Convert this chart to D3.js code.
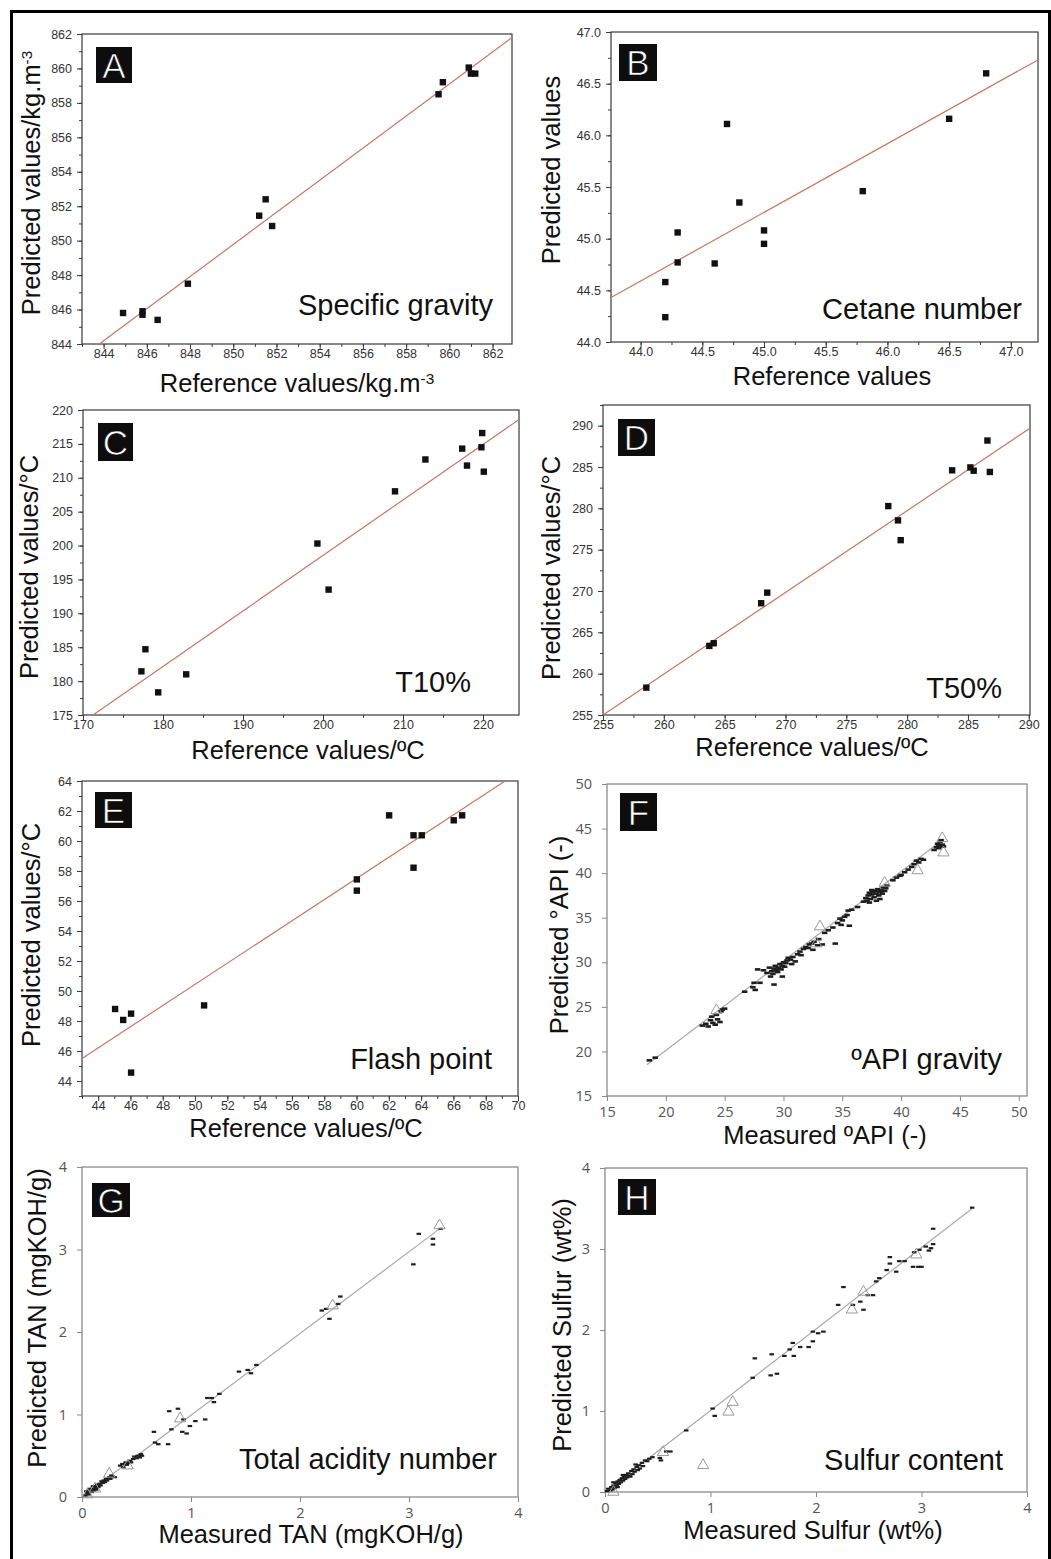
<!DOCTYPE html>
<html><head><meta charset="utf-8">
<script src="https://cdn.jsdelivr.net/npm/d3@7"></script>
<style>body{margin:0;background:#fff} svg{display:block}</style>
</head><body><svg id="c" width="1051" height="1559"></svg>
<script>
// ---------------- DATA ----------------
const pointsA = [[844.9,845.8],[845.8,845.9],[845.8,845.7],[846.5,845.4],[847.9,847.5],[851.2,851.45],[851.5,852.4],[851.8,850.85],[859.5,858.5],[859.7,859.2],[860.9,860.05],[861.0,859.7],[861.2,859.7]];
const fitA = [[843.8,844],[862.9,861.8]];
const domainAx = [843, 862.9], domainAy = [844, 862];
const ticksAx = [844,846,848,850,852,854,856,858,860,862];
const ticksAy = [844,846,848,850,852,854,856,858,860,862];

const pointsB = [[44.2,44.58],[44.2,44.24],[44.3,45.06],[44.3,44.77],[44.6,44.76],[44.7,46.11],[44.8,45.35],[45.0,45.08],[45.0,44.95],[45.8,45.46],[46.5,46.16],[46.8,46.6]];
const fitB = [[43.76,44.43],[47.22,46.73]];
const domainBx = [43.76, 47.22], domainBy = [44, 47];
const ticksBx = [44.0,44.5,45.0,45.5,46.0,46.5,47.0];
const ticksBy = [44.0,44.5,45.0,45.5,46.0,46.5,47.0];

const pointsC = [[177.3,181.44],[177.8,184.7],[179.4,178.34],[182.9,181.0],[199.3,200.3],[200.7,193.5],[209.0,208.0],[212.8,212.7],[217.4,214.3],[218.0,211.8],[219.9,216.6],[219.8,214.5],[220.1,210.9]];
const fitC = [[171.25,175],[224.5,218.6]];
const domainCx = [170, 224.5], domainCy = [175, 220];
const ticksCx = [170,180,190,200,210,220];
const ticksCy = [175,180,185,190,195,200,205,210,215,220];

const pointsD = [[258.56,258.31],[263.74,263.36],[264.1,263.68],[268.0,268.52],[268.5,269.8],[278.45,280.27],[279.25,278.54],[279.47,276.15],[283.7,284.6],[285.2,284.95],[285.47,284.55],[286.6,288.2],[286.8,284.4]];
const fitD = [[255,255],[290.1,289.7]];
const domainDx = [255, 290.1], domainDy = [255, 292.5];
const ticksDx = [255,260,265,270,275,280,285,290];
const ticksDy = [255,260,265,270,275,280,285,290];

const pointsE = [[45.05,48.8],[45.55,48.07],[46.04,48.49],[46.04,44.56],[50.56,49.04],[60.02,57.44],[60.02,56.69],[62.02,61.71],[63.53,60.38],[64.04,60.38],[63.53,58.22],[66.02,61.38],[66.54,61.71]];
const fitE = [[43,45.5],[69.2,64]];
const domainEx = [43, 70], domainEy = [43, 64];
const ticksEx = [44,46,48,50,52,54,56,58,60,62,64,66,68,70];
const ticksEy = [44,46,48,50,52,54,56,58,60,62,64];

const pointsF = [
[18.6,19.0],[19.1,19.3],
[23.1,22.9],[23.4,23.1],[23.6,22.8],[23.8,23.5],[24.0,23.2],[24.2,23.0],[24.4,23.6],[24.6,23.3],[24.8,24.7],[25.0,24.8],[24.7,24.5],[23.9,23.9],[24.3,24.1],
[26.7,26.7],[27.4,27.2],[27.5,27.7],[27.6,26.9],[28.0,27.7],
[27.8,29.2],[28.3,29.1],[28.6,28.8],[28.8,29.4],[29.0,29.0],[29.1,28.7],[29.2,29.3],[29.3,29.6],[29.4,29.1],[29.5,28.9],[29.6,29.4],[29.7,29.8],[29.8,29.2],[29.9,29.6],[30.0,30.0],[30.1,29.5],[30.2,29.9],[30.3,30.2],[30.4,30.5],[30.6,30.3],[30.8,30.6],[31.0,30.1],[29.2,27.5],[29.9,28.4],[28.9,28.4],[30.7,29.8],[31.2,30.9],[31.4,31.2],[31.5,30.8],[31.7,31.5],[31.9,31.7],[32.1,31.6],[32.2,32.0],[32.4,32.1],[32.6,32.3],[33.0,32.6],[33.3,32.0],[34.4,32.1],[32.5,31.4],[32.9,31.9],
[33.5,33.3],[33.8,33.6],[34.2,33.9],[34.6,34.4],[34.8,34.9],[35.0,34.7],[35.2,35.1],[35.4,35.3],[35.6,34.1],[35.5,35.8],[35.8,35.9],[34.9,34.2],[36.3,36.2],
[36.8,36.8],[37.0,37.2],[37.1,36.9],[37.2,37.5],[37.3,37.8],[37.4,37.1],[37.5,37.6],[37.6,37.9],[37.7,37.3],[37.8,38.0],[37.9,37.7],[38.0,38.2],[38.1,37.5],[38.2,37.9],[38.3,38.1],[38.4,37.7],[38.5,38.4],[38.6,38.0],[38.7,38.3],[37.5,38.1],[37.9,36.9],[38.2,37.1],[37.3,36.7],[38.8,38.6],
[39.3,39.2],[39.6,39.5],[39.9,39.7],[40.3,40.1],[40.6,40.4],[40.9,40.7],[41.1,41.0],[41.3,41.4],[41.5,41.2],[41.7,41.6],[41.9,41.5],[40.0,39.8],
[42.8,42.6],[43.0,42.9],[43.1,43.3],[43.2,42.8],[43.3,43.5],[43.4,43.0],[43.5,43.2],[43.4,43.7],[43.2,43.1],[43.6,43.0]
];
const trianglesF = [[24.3,24.6],[32.8,32.1],[33.1,34.0],[38.6,38.9],[41.4,40.3],[43.6,42.3],[43.5,43.9]];
const fitF = [[18.4,18.5],[43.4,43.6]];
const domainFx = [15, 50.7], domainFy = [15, 50];
const ticksFx = [15,20,25,30,35,40,45,50];
const ticksFy = [15,20,25,30,35,40,45,50];

const pointsG = [
[0.03,0.02],[0.05,0.05],[0.06,0.03],[0.08,0.08],[0.09,0.06],[0.1,0.1],[0.11,0.08],[0.12,0.13],[0.13,0.11],[0.14,0.15],[0.15,0.12],[0.16,0.16],[0.17,0.14],[0.18,0.19],[0.19,0.17],[0.2,0.2],[0.21,0.18],[0.22,0.22],[0.23,0.2],[0.25,0.24],[0.26,0.22],[0.27,0.26],[0.28,0.25],[0.3,0.24],[0.07,0.1],[0.1,0.13],[0.13,0.09],[0.04,0.07],
[0.35,0.38],[0.37,0.4],[0.38,0.36],[0.4,0.42],[0.41,0.39],[0.42,0.41],[0.44,0.44],[0.45,0.42],[0.47,0.46],[0.48,0.49],[0.5,0.47],[0.51,0.5],[0.53,0.48],[0.54,0.52],[0.55,0.5],
[0.66,0.79],[0.67,0.66],[0.7,0.64],[0.79,0.64],[0.8,1.04],[0.82,0.82],[0.88,1.07],[0.92,0.79],[0.96,0.77],[0.93,0.94],[0.99,0.86],[1.04,0.92],[1.13,0.94],
[1.15,1.2],[1.19,1.2],[1.21,1.15],[1.26,1.25],[1.44,1.52],[1.52,1.54],[1.55,1.5],[1.6,1.6],[2.2,2.26],[2.24,2.28],[2.27,2.16],[2.35,2.34],[2.37,2.43],[3.04,2.82],[3.09,3.19],[3.22,3.13],[3.22,3.06],[3.29,3.25]
];
const trianglesG = [[0.9,0.95],[2.3,2.32],[3.28,3.29],[0.25,0.28],[0.42,0.38],[0.12,0.1],[0.05,0.03]];
const fitG = [[0.02,0.02],[3.28,3.25]];
const domainGx = [0, 4], domainGy = [0, 4];
const ticksGx = [0,1,2,3,4], ticksGy = [0,1,2,3,4];

const pointsH = [
[0.02,0.01],[0.03,0.04],[0.05,0.02],[0.06,0.06],[0.07,0.03],[0.08,0.08],[0.09,0.05],[0.1,0.11],[0.11,0.08],[0.12,0.13],[0.13,0.1],[0.14,0.15],[0.15,0.12],[0.16,0.17],[0.17,0.14],[0.18,0.19],[0.19,0.16],[0.2,0.21],[0.21,0.18],[0.22,0.23],[0.23,0.2],[0.25,0.26],[0.26,0.22],[0.27,0.28],[0.28,0.25],[0.3,0.31],[0.31,0.27],[0.32,0.33],[0.33,0.29],[0.35,0.36],[0.36,0.32],[0.38,0.39],[0.4,0.38],[0.42,0.41],[0.45,0.43],[0.52,0.42],[0.53,0.39],[0.08,0.12],[0.12,0.06],[0.17,0.21],[0.24,0.19],[0.29,0.34],
[0.58,0.5],[0.62,0.5],[0.77,0.76],[1.02,1.03],[1.04,0.94],[1.4,1.41],[1.42,1.65],[1.57,1.44],[1.63,1.46],[1.58,1.7],[1.7,1.68],[1.75,1.76],[1.78,1.84],[1.79,1.68],[1.85,1.79],[1.93,1.79],[1.97,1.86],[1.97,1.98],[2.02,1.96],[2.07,1.98],[2.21,2.31],[2.26,2.53],[2.35,2.31],[2.42,2.35],[2.45,2.25],[2.49,2.43],[2.54,2.43],[2.57,2.6],[2.6,2.64],[2.67,2.74],[2.7,2.82],[2.7,2.9],[2.76,2.72],[2.79,2.85],[2.84,2.85],[2.92,2.78],[2.93,2.96],[2.97,2.78],[3.0,2.78],[2.98,2.99],[3.04,3.03],[3.07,2.98],[3.09,3.01],[3.11,3.06],[3.11,3.25],[3.48,3.51]
];
const trianglesH = [[0.55,0.49],[0.93,0.33],[1.17,0.99],[1.21,1.11],[2.34,2.25],[2.45,2.47],[2.95,2.93],[0.08,0.0]];
const fitH = [[0.0,0.0],[3.48,3.5]];
const domainHx = [0, 4], domainHy = [0, 4];
const ticksHx = [0,1,2,3,4], ticksHy = [0,1,2,3,4];

const panelLetters = ["A","B","C","D","E","F","G","H"];
const panelNotes = ["Specific gravity","Cetane number","T10%","T50%","Flash point","ºAPI gravity","Total acidity number","Sulfur content"];
const xLabels = ["Reference values/kg.m^-3","Reference values","Reference values/ºC","Reference values/ºC","Reference values/ºC","Measured ºAPI (-)","Measured TAN (mgKOH/g)","Measured Sulfur (wt%)"];
const yLabels = ["Predicted values/kg.m^-3","Predicted values","Predicted values/°C","Predicted values/°C","Predicted values/°C","Predicted °API (-)","Predicted TAN (mgKOH/g)","Predicted Sulfur (wt%)"];

// ---------------- LAYOUT ----------------
const layout = [
 {box:[82,512,34,344], style:"origin", tag:[96,47,36,36], ylab:[40,183], xlab:[297,392], note:[493,315], fx:"d", fy:"d", mx:1, my:1},
 {box:[611,1038,32,342], style:"origin", tag:[619,44,38,37], ylab:[560,170], xlab:[832,385], note:[1022,319], fx:".1f", fy:".1f", mx:0.25, my:0.25},
 {box:[83,519,410,715], style:"origin", tag:[98,423,35,38], ylab:[38,567], xlab:[308,759], note:[471,692], fx:"d", fy:"d", mx:5, my:2.5},
 {box:[603,1030,405,715], style:"origin", tag:[618,419,37,37], ylab:[560,568], xlab:[812,756], note:[1002,698], fx:"d", fy:"d", mx:2.5, my:2.5},
 {box:[82,518,781,1096], style:"origin", tag:[95,792,37,36], ylab:[40,935], xlab:[306,1137], note:[492,1069], fx:"d", fy:"d", mx:1, my:1},
 {box:[607,1027,784,1096], style:"excel", tag:[620,793,37,38], ylab:[568,935], xlab:[825,1144], note:[1002,1069], fx:"d", fy:"d"},
 {box:[82,518,1167,1497], style:"excel", tag:[92,1183,38,34], ylab:[46,1318], xlab:[311,1543], note:[497,1469], fx:"d", fy:"d"},
 {box:[605,1027,1168,1492], style:"excel", tag:[618,1179,38,36], ylab:[571,1325], xlab:[813,1539], note:[1003,1470], fx:"d", fy:"d"}
];

const panelData = [
 {pts:pointsA, fit:fitA, xd:domainAx, yd:domainAy, xt:ticksAx, yt:ticksAy},
 {pts:pointsB, fit:fitB, xd:domainBx, yd:domainBy, xt:ticksBx, yt:ticksBy},
 {pts:pointsC, fit:fitC, xd:domainCx, yd:domainCy, xt:ticksCx, yt:ticksCy},
 {pts:pointsD, fit:fitD, xd:domainDx, yd:domainDy, xt:ticksDx, yt:ticksDy},
 {pts:pointsE, fit:fitE, xd:domainEx, yd:domainEy, xt:ticksEx, yt:ticksEy},
 {pts:pointsF, tri:trianglesF, fit:fitF, xd:domainFx, yd:domainFy, xt:ticksFx, yt:ticksFy},
 {pts:pointsG, tri:trianglesG, fit:fitG, xd:domainGx, yd:domainGy, xt:ticksGx, yt:ticksGy},
 {pts:pointsH, tri:trianglesH, fit:fitH, xd:domainHx, yd:domainHy, xt:ticksHx, yt:ticksHy}
];

const svg = d3.select("#c");
svg.append("rect").attr("width",1051).attr("height",1559).attr("fill","#fff");
const SANS = "'Liberation Sans', Arial, Helvetica, sans-serif";

function addLabel(sel, str) {
  const parts = str.split("^");
  sel.append("tspan").text(parts[0]);
  if (parts[1]) sel.append("tspan").attr("dy","-0.5em").attr("font-size","0.6em").text(parts[1]);
}

function minorRange(dom, step) {
  const lo = Math.ceil(dom[0]/step - 1e-9)*step, out = [];
  for (let v = lo; v <= dom[1] + 1e-9; v += step) out.push(+v.toFixed(4));
  return out;
}

layout.forEach((L, i) => {
  const D = panelData[i];
  const b = L.box;
  const origin = L.style === "origin";
  const x = d3.scaleLinear().domain(D.xd).range([b[0], b[1]]);
  const y = d3.scaleLinear().domain(D.yd).range([b[3], b[2]]);
  const g = svg.append("g");
  const axisCol = origin ? "#3a3a3a" : "#8a8a8a";

  if (origin) {
    g.append("g").attr("transform",`translate(0,${b[3]})`)
      .call(d3.axisBottom(x).tickValues(minorRange(D.xd, L.mx)).tickSize(3).tickFormat("").tickSizeOuter(0));
    g.append("g").attr("transform",`translate(${b[0]},0)`)
      .call(d3.axisLeft(y).tickValues(minorRange(D.yd, L.my)).tickSize(3).tickFormat("").tickSizeOuter(0));
  }
  const xa = g.append("g").attr("transform",`translate(0,${b[3]})`)
    .call(d3.axisBottom(x).tickValues(D.xt).tickFormat(d3.format(L.fx)).tickSize(5).tickPadding(origin?0.5:6).tickSizeOuter(0));
  const ya = g.append("g").attr("transform",`translate(${b[0]},0)`)
    .call(d3.axisLeft(y).tickValues(D.yt).tickFormat(d3.format(L.fy)).tickSize(5).tickPadding(origin?5:10).tickSizeOuter(0));
  g.selectAll(".domain").remove();
  g.selectAll(".tick line").attr("stroke", axisCol).attr("stroke-width", 1);
  [xa, ya].forEach(a => a.attr("font-family", origin ? SANS : "'Open Sans', 'Noto Sans', sans-serif")
     .attr("font-size", origin ? 12.5 : 14.5));
  g.selectAll(".tick text").attr("fill", origin ? "#333" : "#555");

  // frame
  g.append("rect").attr("x", b[0]).attr("y", b[2]).attr("width", b[1]-b[0]).attr("height", b[3]-b[2])
    .attr("fill","none").attr("stroke", axisCol).attr("stroke-width", origin ? 1.2 : 1.3);

  // fit line
  g.append("path").datum(D.fit)
    .attr("d", d3.line().x(d => x(d[0])).y(d => y(d[1])))
    .attr("fill","none").attr("stroke", origin ? "#c9775e" : "#a9a9a9").attr("stroke-width", 1.2);

  if (origin) {
    g.selectAll("rect.pt").data(D.pts).join("rect").attr("class","pt")
      .attr("x", d => x(d[0]) - 3.2).attr("y", d => y(d[1]) - 3.2)
      .attr("width", 6.4).attr("height", 6.4).attr("fill", "#111");
  } else {
    const w = i === 5 ? 5.5 : 4.5, h = i === 5 ? 2.6 : 2.2;
    g.selectAll("rect.pt").data(D.pts).join("rect").attr("class","pt")
      .attr("x", d => x(d[0]) - w/2).attr("y", d => y(d[1]) - h/2)
      .attr("width", w).attr("height", h).attr("fill", "#1e1e1e");
    g.selectAll("path.tri").data(D.tri).join("path").attr("class","tri")
      .attr("transform", d => `translate(${x(d[0])},${y(d[1])})`)
      .attr("d", d3.symbol(d3.symbolTriangle, 55)())
      .attr("fill","none").attr("stroke","#999").attr("stroke-width",1);
  }

  // panel letter tag
  g.append("rect").attr("x", L.tag[0]).attr("y", L.tag[1]).attr("width", L.tag[2]).attr("height", L.tag[3]).attr("fill","#0d0d0d");
  g.append("text").attr("x", L.tag[0] + L.tag[2]/2).attr("y", L.tag[1] + L.tag[3]/2 + 12.5)
    .attr("text-anchor","middle").attr("font-family", SANS).attr("font-size", 35)
    .attr("fill","#fff").attr("stroke","#000").attr("stroke-width",0.7).text(panelLetters[i]);

  // note
  g.append("text").attr("x", L.note[0]).attr("y", L.note[1]).attr("text-anchor","end")
    .attr("font-family", SANS).attr("font-size", 29).attr("fill","#111").text(panelNotes[i]);

  // axis labels
  const xl = g.append("text").attr("x", L.xlab[0]).attr("y", L.xlab[1]).attr("text-anchor","middle")
    .attr("font-family", SANS).attr("font-size", 25.5).attr("fill","#111");
  addLabel(xl, xLabels[i]);
  const yl = g.append("text").attr("transform", `translate(${L.ylab[0]},${L.ylab[1]}) rotate(-90)`).attr("text-anchor","middle")
    .attr("font-family", SANS).attr("font-size", 25.5).attr("fill","#111");
  addLabel(yl, yLabels[i]);
});

// outer border
svg.append("path").attr("d","M11.5,1559 L11.5,11.5 L1049.5,11.5 L1049.5,1559")
  .attr("fill","none").attr("stroke","#000").attr("stroke-width",3);
</script></body></html>
